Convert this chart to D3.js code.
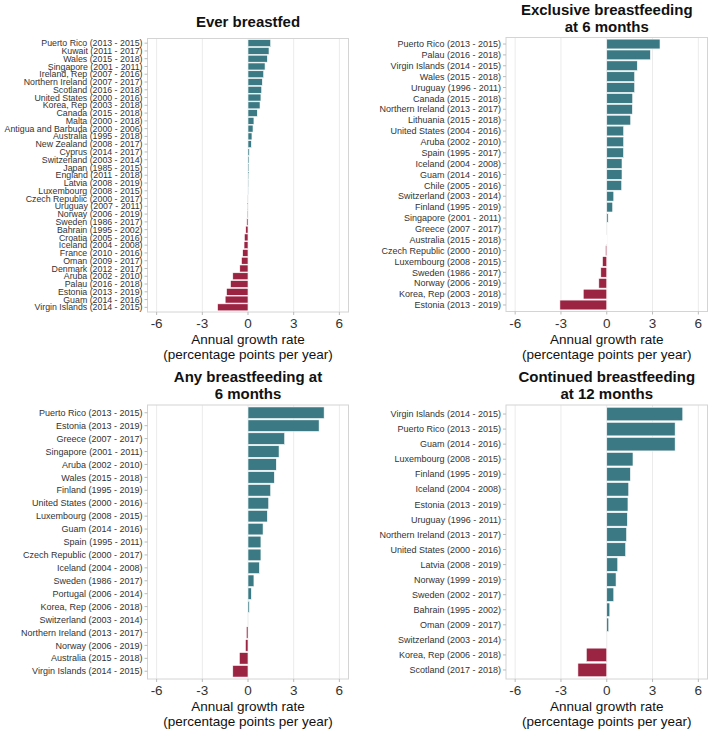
<!DOCTYPE html>
<html>
<head>
<meta charset="utf-8">
<script src="https://cdn.jsdelivr.net/npm/d3@7"></script>
<style>
  body { margin: 0; background: #fff; }
  svg text { font-family: "Liberation Sans", Arial, sans-serif; }
</style>
</head>
<body>
<svg id="chart" width="709" height="729"></svg>
<script>
////////////////////////////////////////////
// DATA
////////////////////////////////////////////

const everLabels = ["Puerto Rico (2013 - 2015)","Kuwait (2011 - 2017)","Wales (2015 - 2018)","Singapore (2001 - 2011)",
  "Ireland, Rep (2007 - 2016)","Northern Ireland (2007 - 2017)","Scotland (2016 - 2018)","United States (2000 - 2016)",
  "Korea, Rep (2003 - 2018)","Canada (2015 - 2018)","Malta (2000 - 2018)","Antigua and Barbuda (2000 - 2006)",
  "Australia (1995 - 2018)","New Zealand (2008 - 2017)","Cyprus (2014 - 2017)","Switzerland (2003 - 2014)",
  "Japan (1985 - 2015)","England (2011 - 2018)","Latvia (2008 - 2019)","Luxembourg (2008 - 2015)",
  "Czech Republic (2000 - 2017)","Uruguay (2007 - 2011)","Norway (2006 - 2019)","Sweden (1986 - 2017)",
  "Bahrain (1995 - 2002)","Croatia (2005 - 2016)","Iceland (2004 - 2008)","France (2010 - 2016)",
  "Oman (2009 - 2017)","Denmark (2012 - 2017)","Aruba (2002 - 2010)","Palau (2016 - 2018)",
  "Estonia (2013 - 2019)","Guam (2014 - 2016)","Virgin Islands (2014 - 2015)"];
const everValues = [1.49,1.38,1.27,1.12,1.03,0.94,0.90,0.85,0.79,0.61,0.39,0.33,0.26,0.22,0.09,0.07,0.06,0.05,
  0.03,0.01,-0.01,-0.03,-0.05,-0.08,-0.15,-0.24,-0.26,-0.35,-0.43,-0.54,-1.0,-1.15,-1.41,-1.5,-2.0];

const exclLabels = ["Puerto Rico (2013 - 2015)","Palau (2016 - 2018)","Virgin Islands (2014 - 2015)","Wales (2015 - 2018)",
  "Uruguay (1996 - 2011)","Canada (2015 - 2018)","Northern Ireland (2013 - 2017)","Lithuania (2015 - 2018)",
  "United States (2004 - 2016)","Aruba (2002 - 2010)","Spain (1995 - 2017)","Iceland (2004 - 2008)",
  "Guam (2014 - 2016)","Chile (2005 - 2016)","Switzerland (2003 - 2014)","Finland (1995 - 2019)",
  "Singapore (2001 - 2011)","Greece (2007 - 2017)","Australia (2015 - 2018)","Czech Republic (2000 - 2010)",
  "Luxembourg (2008 - 2015)","Sweden (1986 - 2017)","Norway (2006 - 2019)","Korea, Rep (2003 - 2018)",
  "Estonia (2013 - 2019)"];
const exclValues = [3.49,2.86,2.0,1.83,1.83,1.70,1.68,1.57,1.11,1.11,1.10,1.0,1.0,0.98,0.46,0.39,0.09,0.0,
  -0.02,-0.08,-0.28,-0.39,-0.52,-1.54,-3.07];

const anyLabels = ["Puerto Rico (2013 - 2015)","Estonia (2013 - 2019)","Greece (2007 - 2017)","Singapore (2001 - 2011)",
  "Aruba (2002 - 2010)","Wales (2015 - 2018)","Finland (1995 - 2019)","United States (2000 - 2016)",
  "Luxembourg (2008 - 2015)","Guam (2014 - 2016)","Spain (1995 - 2011)","Czech Republic (2000 - 2017)",
  "Iceland (2004 - 2008)","Sweden (1986 - 2017)","Portugal (2006 - 2014)","Korea, Rep (2006 - 2018)",
  "Switzerland (2003 - 2014)","Northern Ireland (2013 - 2017)","Norway (2006 - 2019)","Australia (2015 - 2018)",
  "Virgin Islands (2014 - 2015)"];
const anyValues = [5.0,4.67,2.41,2.04,1.86,1.73,1.49,1.36,1.27,0.99,0.85,0.85,0.75,0.39,0.22,0.09,0.0,
  -0.11,-0.17,-0.57,-1.0];

const contLabels = ["Virgin Islands (2014 - 2015)","Puerto Rico (2013 - 2015)","Guam (2014 - 2016)","Luxembourg (2008 - 2015)",
  "Finland (1995 - 2019)","Iceland (2004 - 2008)","Estonia (2013 - 2019)","Uruguay (1996 - 2011)",
  "Northern Ireland (2013 - 2017)","United States (2000 - 2016)","Latvia (2008 - 2019)","Norway (1999 - 2019)",
  "Sweden (2002 - 2017)","Bahrain (1995 - 2002)","Oman (2009 - 2017)","Switzerland (2003 - 2014)",
  "Korea, Rep (2006 - 2018)","Scotland (2017 - 2018)"];
const contValues = [4.98,4.48,4.48,1.72,1.55,1.44,1.39,1.35,1.30,1.24,0.72,0.61,0.46,0.2,0.13,0.0,-1.34,-1.89];

const xTicks = [-6,-3,0,3,6];
const xTitle = ["Annual growth rate","(percentage points per year)"];

////////////////////////////////////////////
// DRAW
////////////////////////////////////////////

const svg = d3.select("#chart");
const POS = "#3b7a84", NEG = "#9c2443";

function drawPanel(cfg){
  let g = svg.append("g");
  let x = d3.scaleLinear().domain([-6.6,6.6]).range([cfg.x0,cfg.x1]);
  let y = d3.scaleBand().domain(cfg.labels).range([cfg.y0,cfg.y1])
    .paddingInner(0.1).paddingOuter(0.15);

  // grid
  g.selectAll("line.grid").data(xTicks).join("line")
    .attr("x1",d => x(d)).attr("x2",d => x(d))
    .attr("y1",cfg.y0).attr("y2",cfg.y1)
    .attr("stroke","#ebebeb").attr("stroke-width",1);

  // bars
  g.selectAll("rect.bar").data(cfg.values).join("rect")
    .attr("x",d => x(Math.min(0,d)))
    .attr("width",d => Math.abs(x(d)-x(0)))
    .attr("y",(d,i) => y(cfg.labels[i]))
    .attr("height",y.bandwidth())
    .attr("fill",d => d >= 0 ? POS : NEG)
    .attr("stroke","#fff").attr("stroke-width",0.6);

  // border
  g.append("rect")
    .attr("x",cfg.x0).attr("y",cfg.y0)
    .attr("width",cfg.x1-cfg.x0).attr("height",cfg.y1-cfg.y0)
    .attr("fill","none").attr("stroke","#d4d4d4").attr("stroke-width",1);

  // y axis ticks + labels
  let yl = g.selectAll("g.ylab").data(cfg.labels).join("g")
    .attr("transform",d => `translate(0,${y(d)+y.bandwidth()/2})`);
  yl.append("line")
    .attr("x1",cfg.x0-3).attr("x2",cfg.x0)
    .attr("stroke","#bbb");
  yl.append("text")
    .attr("x",cfg.x0-5)
    .attr("dy","0.35em")
    .attr("text-anchor","end")
    .attr("font-size",cfg.labelSize || 9)
    .attr("fill","#333")
    .text(d => d);

  // x axis ticks + labels
  g.selectAll("line.xt").data(xTicks).join("line")
    .attr("x1",d => x(d)).attr("x2",d => x(d))
    .attr("y1",cfg.y1).attr("y2",cfg.y1+3)
    .attr("stroke","#bbb");
  g.selectAll("text.xt").data(xTicks).join("text")
    .attr("x",d => x(d)).attr("y",cfg.y1+16)
    .attr("text-anchor","middle")
    .attr("font-size",13.5)
    .attr("fill","#333")
    .text(d => d);

  // axis title
  g.selectAll("text.xtitle").data(xTitle).join("text")
    .attr("x",(cfg.x0+cfg.x1)/2)
    .attr("y",(d,i) => cfg.y1+32+i*15)
    .attr("text-anchor","middle")
    .attr("font-size",13.5)
    .attr("fill","#111")
    .text(d => d);

  // title
  g.selectAll("text.title").data(cfg.title).join("text")
    .attr("x",(cfg.x0+cfg.x1)/2)
    .attr("y",(d,i) => cfg.titleY+i*17)
    .attr("text-anchor","middle")
    .attr("font-size",15)
    .attr("font-weight","bold")
    .attr("fill","#111")
    .text(d => d);
}

drawPanel({labels:everLabels,values:everValues,title:["Ever breastfed"],titleY:27,
  x0:147.5,x1:348.5,y0:38.5,y1:312,labelSize:8.8});
drawPanel({labels:exclLabels,values:exclValues,title:["Exclusive breastfeeding","at 6 months"],titleY:15,
  x0:506,x1:707.5,y0:37.5,y1:311.5});
drawPanel({labels:anyLabels,values:anyValues,title:["Any breastfeeding at","6 months"],titleY:381.5,
  x0:147.5,x1:348.5,y0:405,y1:679});
drawPanel({labels:contLabels,values:contValues,title:["Continued breastfeeding","at 12 months"],titleY:381.5,
  x0:506,x1:707.5,y0:405,y1:679});
</script>
</body>
</html>
